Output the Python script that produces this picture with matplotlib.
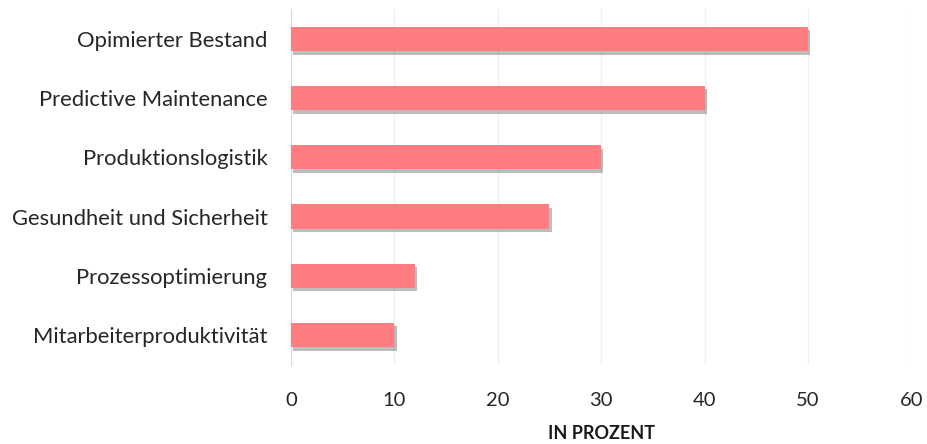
import matplotlib.pyplot as plt
import matplotlib.patheffects as pe

# data
categories = ['Opimierter Bestand', 'Predictive Maintenance', 'Produktionslogistik',
              'Gesundheit und Sicherheit', 'Prozessoptimierung', 'Mitarbeiterproduktivität']
values = [50, 40, 30, 25, 12, 10]
xticks = [0, 10, 20, 30, 40, 50, 60]

plt.rcParams['font.family'] = ['Lato', 'DejaVu Sans']

fig = plt.figure(figsize=(9.27, 4.44), dpi=100)
ax = fig.add_axes([0.314, 0.179, 0.669, 0.8])

ypos = list(range(len(categories)))[::-1]
bars = ax.barh(ypos, values, height=0.41, color='#FF7C80', zorder=3)
for b in bars:
    b.set_path_effects([pe.SimplePatchShadow(offset=(1.5, -2.5), shadow_rgbFace='#444444', alpha=0.35),
                        pe.Normal()])

ax.set_xlim(0, 60)
ax.set_ylim(-0.5, len(categories) - 0.5)
ax.set_xticks(xticks)
ax.set_yticks(ypos)
ax.set_yticklabels(categories)

ax.grid(axis='x', color='#f0f0f0', linewidth=1, zorder=0)
ax.tick_params(axis='both', length=0, colors='#262626')
ax.tick_params(axis='x', labelsize=14.5, pad=20)
ax.tick_params(axis='y', labelsize=15.8, pad=17)
for s in ['top', 'right', 'bottom']:
    ax.spines[s].set_visible(False)
ax.spines['left'].set_color('#d9d9d9')

ax.set_xlabel('IN PROZENT', fontsize=13, fontweight='bold', color='#1a1a1a', labelpad=11)

fig.savefig('out.png', dpi=100)
